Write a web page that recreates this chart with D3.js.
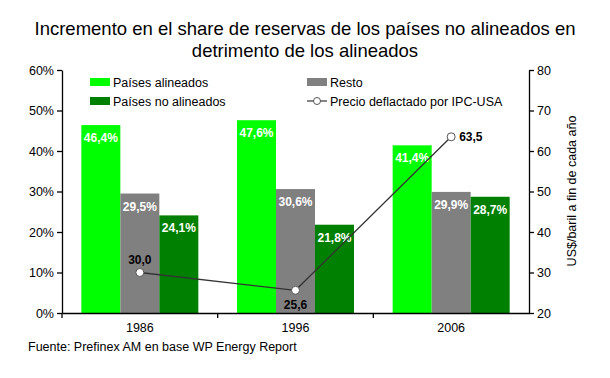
<!DOCTYPE html>
<html><head><meta charset="utf-8">
<script src="https://cdn.jsdelivr.net/npm/d3@7"></script>
<style>
body{margin:0;background:#fff;}
svg text{font-family:"Liberation Sans",Arial,sans-serif;}
</style></head>
<body><svg id="c" width="610" height="378"></svg>
<script>
const categories = ["1986","1996","2006"];
const alineados = [46.4, 47.6, 41.4];
const resto = [29.5, 30.6, 29.9];
const noAlineados = [24.1, 21.8, 28.7];
const precio = [30.0, 25.6, 63.5];
const leftTicks = [0,10,20,30,40,50,60];
const rightTicks = [20,30,40,50,60,70,80];
const seriesNames = ["Países alineados","Resto","Países no alineados"];
const seriesColors = ["#00ff00","#808080","#008000"];
const lineName = "Precio deflactado por IPC-USA";

const svg = d3.select("#c");
const m = {l:62, r:529, t:70, b:313};
const x = d3.scaleBand().domain(categories).range([m.l, m.r]);
const xs = d3.scaleBand().domain([0,1,2]).range([0, 117]);
const yL = d3.scaleLinear().domain([0,60]).range([m.b, m.t]);
const yR = d3.scaleLinear().domain([20,80]).range([m.b, m.t]);
const fmt = v => d3.format(".1f")(v).replace(".", ",");

// title
svg.append("text").attr("x",305).attr("y",35).attr("text-anchor","middle").attr("font-size",18.5).attr("fill","#000")
  .text("Incremento en el share de reservas de los países no alineados en");
svg.append("text").attr("x",305).attr("y",57).attr("text-anchor","middle").attr("font-size",18.5).attr("fill","#000")
  .text("detrimento de los alineados");

// bars
const series = [alineados, resto, noAlineados];
const pad = (x.bandwidth()-117)/2;
series.forEach((s,si)=>{
  const g = svg.append("g");
  categories.forEach((c,i)=>{
    const bx = x(c)+pad+xs(si);
    g.append("rect").attr("x",bx).attr("y",yL(s[i])).attr("width",xs.bandwidth()).attr("height",yL(0)-yL(s[i]))
      .attr("fill",seriesColors[si]);
    g.append("text").attr("x",bx+xs.bandwidth()/2).attr("y",yL(s[i])+17).attr("text-anchor","middle")
      .attr("font-size",12).attr("font-weight","bold").attr("fill","#fff").text(fmt(s[i])+"%");
  });
});

// axes
const axL = d3.axisLeft(yL).tickValues(leftTicks).tickFormat(d=>d+"%").tickSize(5).tickSizeOuter(0);
const gL = svg.append("g").attr("transform",`translate(${m.l},0)`).call(axL);
const axR = d3.axisRight(yR).tickValues(rightTicks).tickSize(5).tickSizeOuter(0);
const gR = svg.append("g").attr("transform",`translate(${m.r},0)`).call(axR);
const axB = d3.axisBottom(x).tickSize(0).tickSizeOuter(0);
const gB = svg.append("g").attr("transform",`translate(0,${m.b})`).call(axB);
[gL,gR,gB].forEach(g=>{
  g.selectAll("path").attr("stroke","#000").attr("stroke-width",1.3);
  g.selectAll("line").attr("stroke","#000").attr("stroke-width",1.3);
  g.selectAll("text").attr("font-size",12.5).attr("fill","#000").attr("font-family","Liberation Sans, Arial, sans-serif");
});
gB.selectAll("text").attr("dy","1.25em");
// category divider ticks on bottom axis
const dividers = categories.slice(0,-1).map(c=>x(c)+x.bandwidth()).concat([m.l]);
dividers.forEach(d=>svg.append("line").attr("x1",d).attr("x2",d).attr("y1",m.b).attr("y2",m.b+5).attr("stroke","#000").attr("stroke-width",1.3));

// right label
svg.append("text").attr("transform",`translate(576,191) rotate(-90)`).attr("text-anchor","middle")
  .attr("font-size",12.5).attr("fill","#000").text("US$/baril a fin de cada año");

// line
const lx = (c)=>x(c)+pad+xs(1)+xs.bandwidth()/2;
const line = d3.line().x((d,i)=>lx(categories[i])).y(d=>yR(d));
svg.append("path").datum(precio).attr("d",line).attr("fill","none").attr("stroke","#333").attr("stroke-width",1.3);
svg.selectAll("circle.p").data(precio).enter().append("circle")
  .attr("cx",(d,i)=>lx(categories[i])).attr("cy",d=>yR(d)).attr("r",4)
  .attr("fill","#fff").attr("stroke","#555").attr("stroke-width",1);
const lblPos = [{dx:0,dy:-9,a:"middle"},{dx:0,dy:19,a:"middle"},{dx:8,dy:4,a:"start"}];
precio.forEach((d,i)=>{
  svg.append("text").attr("x",lx(categories[i])+lblPos[i].dx).attr("y",yR(d)+lblPos[i].dy)
    .attr("text-anchor",lblPos[i].a).attr("font-size",12).attr("font-weight","bold").attr("fill","#000").text(fmt(d));
});

// legend
const leg = [
  {x:90,y:82,type:"rect",c:seriesColors[0],t:seriesNames[0]},
  {x:307,y:82,type:"rect",c:seriesColors[1],t:seriesNames[1]},
  {x:90,y:101,type:"rect",c:seriesColors[2],t:seriesNames[2]},
  {x:307,y:101,type:"line",t:lineName}
];
leg.forEach(l=>{
  if(l.type==="rect"){
    svg.append("rect").attr("x",l.x).attr("y",l.y-4).attr("width",20).attr("height",8).attr("fill",l.c);
  } else {
    svg.append("line").attr("x1",l.x).attr("x2",l.x+20).attr("y1",l.y).attr("y2",l.y).attr("stroke","#333").attr("stroke-width",1.2);
    svg.append("circle").attr("cx",l.x+10).attr("cy",l.y).attr("r",3.5).attr("fill","#fff").attr("stroke","#555");
  }
  svg.append("text").attr("x",l.x+23).attr("y",l.y+4.5).attr("font-size",12.5).attr("fill","#000").text(l.t);
});

// source
svg.append("text").attr("x",28).attr("y",351).attr("font-size",12.5).attr("fill","#000")
  .text("Fuente: Prefinex AM en base WP Energy Report");
</script></body></html>
